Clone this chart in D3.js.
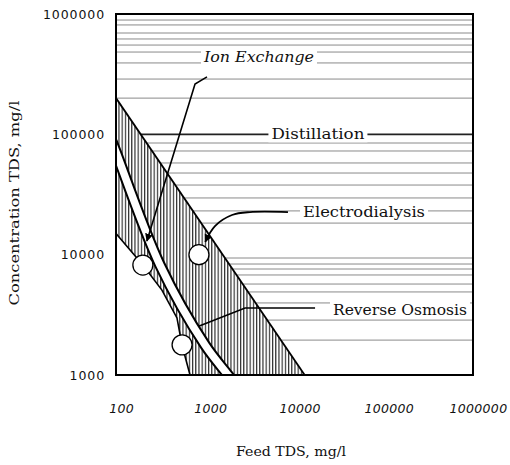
<!DOCTYPE html>
<html>
<head>
<meta charset="utf-8">
<script src="https://cdn.jsdelivr.net/npm/d3@7"></script>
<style>
  html, body { margin: 0; padding: 0; background: #fff; }
  svg { display: block; }
</style>
</head>
<body>
<svg id="chart" width="510" height="465"></svg>
<script>
// ---------------- data ----------------
const feedTicks = [100, 1000, 10000, 100000, 1000000];
const concTicks = [1000, 10000, 100000, 1000000];

// Distillation (hatched band) upper boundary
const distFeed = [100, 13000];
const distConc = [200000, 1000];

// Lower-left boundary curve (passes through the markers)
const ixFeed = [100, 200, 327, 482, 549, 675];
const ixConc = [15000, 8200, 5080, 2980, 1775, 1000];

// White double-line band
const bandFeed = [90, 100, 311, 994, 1800, 2265];
const bandConc = [87000, 71300, 8200, 1775, 1000, 800];

// Circle markers
const markFeed = [200, 850, 550];
const markConc = [8200, 10000, 1780];

// Horizontal lines (concentration levels) filling the distillation field
const hLevels = [891000, 811000, 695000, 620000, 552000, 483000, 392000, 288000, 200000,
  84700, 72700, 57800, 47700, 37900, 29600, 23100, 18300,
  9380, 8360, 7600, 6780, 5700, 4900, 3970, 2860, 1950];
const hDark = [100000];

// Leaders (feed, conc)
const ixLeadFeed = [1046, 768, 222];
const ixLeadConc = [300000, 262000, 13000];
const edLeadFeed = [8450, 3170, 1994, 1285, 1000];
const edLeadConc = [22600, 22600, 21360, 17300, 12800];
const roLeadFeed = [17000, 2790, 830];
const roLeadConc = [3600, 3600, 2530];

// Labels
const labelText = ["Ion Exchange", "Distillation", "Electrodialysis", "Reverse Osmosis"];
const labelFeed = [4000, 18300, 60100, 152000];
const labelConc = [440000, 100000, 22600, 3500];

// ---------------- chart ----------------
const svg = d3.select("#chart");
const L = 116, R = 473, T = 14, B = 375;
const x = d3.scaleLog().domain([100, 1000000]).range([L, R]);
const y = d3.scaleLog().domain([1000, 1000000]).range([B, T]);
const zip = (a, b) => a.map((v, i) => [v, b[i]]);
const line = d3.line().x(d => x(d[0])).y(d => y(d[1]));

const defs = svg.append("defs");
defs.append("clipPath").attr("id", "plotClip")
  .append("rect").attr("x", L).attr("y", T).attr("width", R - L).attr("height", B - T);

// region above the distillation upper line
const distPts = zip(distFeed, distConc);
const aboveRegion = [[100, 1000000], ...distPts, [1000000, 1000], [1000000, 1000000]];
defs.append("clipPath").attr("id", "aboveClip")
  .append("path").attr("d", line(aboveRegion) + "Z");

const pat = defs.append("pattern").attr("id", "vhatch")
  .attr("patternUnits", "userSpaceOnUse").attr("width", 3.2).attr("height", 10);
pat.append("rect").attr("width", 3.2).attr("height", 10).attr("fill", "#fff");
pat.append("line").attr("x1", 0.6).attr("x2", 0.6).attr("y1", 0).attr("y2", 10)
  .attr("stroke", "#111").attr("stroke-width", 1.05);

const arrow = defs.append("marker").attr("id", "arrow")
  .attr("viewBox", "0 0 10 10").attr("refX", 9).attr("refY", 5)
  .attr("markerWidth", 8).attr("markerHeight", 9).attr("markerUnits", "userSpaceOnUse")
  .attr("orient", "auto");
arrow.append("path").attr("d", "M0,0 L10,5 L0,10 Z").attr("fill", "#000");

const plot = svg.append("g").attr("clip-path", "url(#plotClip)");

// horizontal field lines
const hg = plot.append("g").attr("clip-path", "url(#aboveClip)");
hg.selectAll("line.h").data(hLevels).join("line").attr("class", "h")
  .attr("x1", L).attr("x2", R).attr("y1", d => y(d)).attr("y2", d => y(d))
  .attr("stroke", "#8a8a8a").attr("stroke-width", 1);
hg.selectAll("line.hd").data(hDark).join("line").attr("class", "hd")
  .attr("x1", L).attr("x2", R).attr("y1", d => y(d)).attr("y2", d => y(d))
  .attr("stroke", "#222").attr("stroke-width", 1.6);

// hatched distillation band
const ixPts = zip(ixFeed, ixConc);
const hatchPoly = [...distPts, ...ixPts.slice().reverse()];
plot.append("path").attr("d", line(hatchPoly) + "Z")
  .attr("fill", "url(#vhatch)").attr("stroke", "none");
plot.append("path").attr("d", line(distPts)).attr("fill", "none")
  .attr("stroke", "#000").attr("stroke-width", 1.8);
plot.append("path").attr("d", line(ixPts)).attr("fill", "none")
  .attr("stroke", "#000").attr("stroke-width", 1.6);

// leaders (below band)
const curveLine = d3.line().x(d => x(d[0])).y(d => y(d[1])).curve(d3.curveCatmullRom);
plot.append("path").attr("d", line(zip(roLeadFeed, roLeadConc))).attr("fill", "none")
  .attr("stroke", "#000").attr("stroke-width", 1.6);

// white double band
const bandPts = zip(bandFeed, bandConc);
const bandCurve = d3.line().x(d => x(d[0])).y(d => y(d[1])).curve(d3.curveCatmullRom);
plot.append("path").attr("d", bandCurve(bandPts)).attr("fill", "none")
  .attr("stroke", "#000").attr("stroke-width", 11.5);
plot.append("path").attr("d", bandCurve(bandPts)).attr("fill", "none")
  .attr("stroke", "#fff").attr("stroke-width", 7.5);

// leaders with arrows
plot.append("path").attr("d", line(zip(ixLeadFeed, ixLeadConc))).attr("fill", "none")
  .attr("stroke", "#000").attr("stroke-width", 1.6).attr("marker-end", "url(#arrow)");
plot.append("path").attr("d", curveLine(zip(edLeadFeed, edLeadConc))).attr("fill", "none")
  .attr("stroke", "#000").attr("stroke-width", 1.8).attr("marker-end", "url(#arrow)");

// circle markers
plot.selectAll("circle.m").data(zip(markFeed, markConc)).join("circle").attr("class", "m")
  .attr("cx", d => x(d[0])).attr("cy", d => y(d[1])).attr("r", 10)
  .attr("fill", "#fff").attr("stroke", "#000").attr("stroke-width", 1.3);

// labels with white backgrounds
const labelW = [110, 93, 122, 134];
const labelStyle = ["italic", "normal", "normal", "normal"];
const lg = svg.append("g");
labelText.forEach((t, i) => {
  const cx = x(labelFeed[i]) , cy = y(labelConc[i]);
  lg.append("rect").attr("x", cx - labelW[i] / 2 - 3).attr("y", cy - 9)
    .attr("width", labelW[i] + 6).attr("height", 17).attr("fill", "#fff");
  lg.append("text").attr("x", cx).attr("y", cy + 5)
    .attr("text-anchor", "middle")
    .attr("font-family", "'DejaVu Serif', serif").attr("font-size", 14)
    .attr("font-style", labelStyle[i])
    .attr("textLength", labelW[i]).attr("lengthAdjust", "spacingAndGlyphs")
    .attr("fill", "#111").text(t);
});

// frame
svg.append("rect").attr("x", L).attr("y", T).attr("width", R - L).attr("height", B - T)
  .attr("fill", "none").attr("stroke", "#000").attr("stroke-width", 2);

// axes
const yAxis = d3.axisLeft(y).tickValues(concTicks).tickSize(0).tickPadding(11)
  .tickFormat(d3.format("d"));
const gy = svg.append("g").attr("transform", `translate(${L},0)`).call(yAxis);
gy.select(".domain").remove();
gy.selectAll("text").attr("font-family", "'DejaVu Sans', sans-serif")
  .attr("font-size", 12.5).attr("letter-spacing", 0.9).attr("fill", "#111");

const xAxis = d3.axisBottom(x).tickValues(feedTicks).tickSize(0).tickPadding(29)
  .tickFormat(d3.format("d"));
const gx = svg.append("g").attr("transform", `translate(0,${B})`).call(xAxis);
gx.select(".domain").remove();
gx.selectAll("text").attr("font-family", "'DejaVu Sans', sans-serif")
  .attr("font-size", 12.5).attr("font-style", "italic").attr("letter-spacing", 0.3)
  .attr("dx", 5).attr("fill", "#111");

// axis titles
svg.append("text").attr("transform", "translate(19,203) rotate(-90)")
  .attr("text-anchor", "middle").attr("font-family", "'DejaVu Serif', serif")
  .attr("font-size", 13).attr("textLength", 205).attr("lengthAdjust", "spacingAndGlyphs")
  .attr("fill", "#111").text("Concentration TDS, mg/l");
svg.append("text").attr("x", 291).attr("y", 456)
  .attr("text-anchor", "middle").attr("font-family", "'DejaVu Serif', serif")
  .attr("font-size", 13).attr("textLength", 110).attr("lengthAdjust", "spacingAndGlyphs")
  .attr("fill", "#111").text("Feed TDS, mg/l");
</script>
</body>
</html>
